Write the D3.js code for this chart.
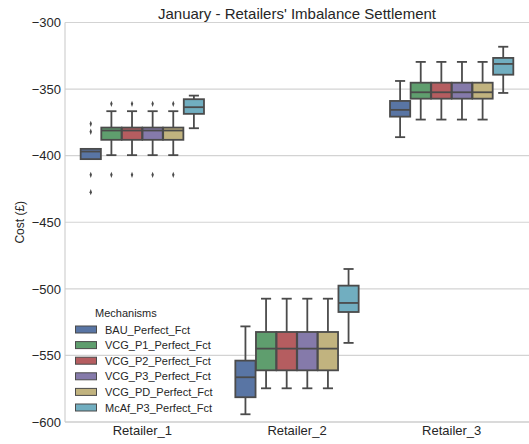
<!DOCTYPE html>
<html><head><meta charset="utf-8">
<script src="https://cdn.jsdelivr.net/npm/d3@7"></script>
<style>body{margin:0;background:#fff}svg{display:block;font-family:"Liberation Sans",Arial,sans-serif}</style>
</head><body><svg id="c" width="529" height="444"></svg>
<script>
const categories = ["Retailer_1", "Retailer_2", "Retailer_3"];
const mechanisms = ["BAU_Perfect_Fct", "VCG_P1_Perfect_Fct", "VCG_P2_Perfect_Fct", "VCG_P3_Perfect_Fct", "VCG_PD_Perfect_Fct", "McAf_P3_Perfect_Fct"];
const colors = ["#4C72B0", "#55A868", "#C44E52", "#8172B2", "#CCB974", "#64B5CD"];
const yTicks = [-300, -350, -400, -450, -500, -550, -600];
// per mechanism, per retailer: [whislo, q1, median, q3, whishi]
const BAU  = [[-402.6, -402.6, -396.9, -394.9, -394.9], [-594.2, -581.4, -566.4, -553.9, -528.2], [-386.1, -370.7, -365.6, -358.9, -343.9]];
const VCG1 = [[-399.6, -388.1, -381.1, -378.9, -366.6], [-574.7, -561.2, -544.9, -532.4, -507.4], [-372.9, -357.2, -352.4, -345.2, -329.6]];
const VCG2 = [[-399.6, -388.1, -381.1, -378.9, -366.6], [-574.7, -561.2, -544.9, -532.4, -507.4], [-372.9, -357.2, -352.4, -345.2, -329.6]];
const VCG3 = [[-399.6, -388.1, -381.1, -378.9, -366.6], [-574.7, -561.2, -544.9, -532.4, -507.4], [-372.9, -357.2, -352.4, -345.2, -329.6]];
const VCGD = [[-399.6, -388.1, -381.1, -378.9, -366.6], [-574.7, -561.2, -544.9, -532.4, -507.4], [-372.9, -357.2, -352.4, -345.2, -329.6]];
const MCAF = [[-379.4, -368.6, -363.6, -357.6, -354.9], [-540.6, -517.4, -510.6, -497.6, -485.1], [-352.9, -339.2, -331.1, -326.6, -318.2]];
// outliers per mechanism, per retailer
const outBAU  = [[-376.1, -382.1, -414.4, -427.4], [], []];
const outVCG  = [[-361.1, -414.4], [], []];
const outMCAF = [[], [], []];

const stats = [BAU, VCG1, VCG2, VCG3, VCGD, MCAF];
const outs = [outBAU, outVCG, outVCG, outVCG, outVCG, outMCAF];

const svg = d3.select("#c");
const M = {l: 65, r: 529, t: 22.5, b: 422};
const x = d3.scaleBand().domain(categories).range([M.l, M.r]).paddingInner(0.2).paddingOuter(0.1);
const y = d3.scaleLinear().domain([-600, -300]).range([M.b, M.t]);
const inner = d3.scaleBand().domain(mechanisms).range([0, x.bandwidth()]);
const desat = c => { const h = d3.hsl(c); h.s *= 0.75; return h.formatHex(); };
const gray = "#4b4b4b";
const txt = "#262626";

// grid
svg.append("g").selectAll("line").data(yTicks).join("line")
  .attr("x1", M.l).attr("x2", M.r).attr("y1", d => y(d)).attr("y2", d => y(d))
  .attr("stroke", "#d3d3d3").attr("stroke-width", 1.1);
// spines
svg.append("line").attr("x1", M.l).attr("x2", M.l).attr("y1", M.t).attr("y2", M.b).attr("stroke", "#cccccc").attr("stroke-width", 1.1);
svg.append("line").attr("x1", M.l).attr("x2", M.r).attr("y1", M.b).attr("y2", M.b).attr("stroke", "#cccccc").attr("stroke-width", 1.1);

// y axis
const yAxis = d3.axisLeft(y).tickValues(yTicks).tickSize(0).tickPadding(4).tickFormat(d => d3.format("d")(d).replace("-", "\u2212"));
const ya = svg.append("g").attr("transform", `translate(${M.l},0)`).call(yAxis);
ya.select(".domain").remove();
ya.selectAll("text").attr("font-size", 13).attr("fill", txt).attr("font-family", "Liberation Sans, Arial, sans-serif");
// x axis
const xAxis = d3.axisBottom(x).tickSize(0).tickPadding(4);
const xa = svg.append("g").attr("transform", `translate(0,${M.b})`).call(xAxis);
xa.select(".domain").remove();
xa.selectAll("text").attr("font-size", 13).attr("fill", txt).attr("font-family", "Liberation Sans, Arial, sans-serif");

// boxes
const lw = 1.8;
mechanisms.forEach((m, mi) => {
  categories.forEach((c, ci) => {
    const s = stats[mi][ci];
    const bx = x(c) + inner(m);
    const bw = inner.bandwidth();
    const pad = bw * 0.01;
    const cx = bx + bw / 2;
    const g = svg.append("g");
    const cw = (bw - 2 * pad) * 0.25;
    // whiskers
    g.append("line").attr("x1", cx).attr("x2", cx).attr("y1", y(s[0])).attr("y2", y(s[1])).attr("stroke", gray).attr("stroke-width", lw);
    g.append("line").attr("x1", cx).attr("x2", cx).attr("y1", y(s[3])).attr("y2", y(s[4])).attr("stroke", gray).attr("stroke-width", lw);
    g.append("line").attr("x1", cx - cw).attr("x2", cx + cw).attr("y1", y(s[0])).attr("y2", y(s[0])).attr("stroke", gray).attr("stroke-width", lw);
    g.append("line").attr("x1", cx - cw).attr("x2", cx + cw).attr("y1", y(s[4])).attr("y2", y(s[4])).attr("stroke", gray).attr("stroke-width", lw);
    // box
    g.append("rect").attr("x", bx + pad).attr("width", bw - 2 * pad).attr("y", y(s[3])).attr("height", y(s[1]) - y(s[3]))
      .attr("fill", desat(colors[mi])).attr("stroke", gray).attr("stroke-width", lw);
    g.append("line").attr("x1", bx + pad).attr("x2", bx + bw - pad).attr("y1", y(s[2])).attr("y2", y(s[2])).attr("stroke", gray).attr("stroke-width", lw);
    // outliers
    g.selectAll("path").data(outs[mi][ci]).join("path")
      .attr("d", d3.symbol(d3.symbolDiamond, 9))
      .attr("transform", d => `translate(${cx},${y(d)}) scale(0.75,1.15)`)
      .attr("fill", gray);
  });
});

// title
svg.append("text").attr("x", (M.l + M.r) / 2).attr("y", 19).attr("text-anchor", "middle")
  .attr("font-size", 15).attr("fill", txt).text("January - Retailers' Imbalance Settlement");
// y label
svg.append("text").attr("transform", `translate(24,${(M.t + M.b) / 2}) rotate(-90)`).attr("text-anchor", "middle")
  .attr("font-size", 12).attr("fill", txt).text("Cost (£)");

// legend
const lg = svg.append("g");
lg.append("text").attr("x", 95).attr("y", 317).attr("font-size", 11).attr("fill", txt).text("Mechanisms");
mechanisms.forEach((m, i) => {
  const yy = 329.5 + i * 15.6;
  lg.append("rect").attr("x", 75.5).attr("y", yy - 3.5).attr("width", 21).attr("height", 7)
    .attr("fill", desat(colors[i])).attr("stroke", gray).attr("stroke-width", 1);
  lg.append("text").attr("x", 105).attr("y", yy + 4).attr("font-size", 11).attr("fill", txt).text(m);
});
</script></body></html>
